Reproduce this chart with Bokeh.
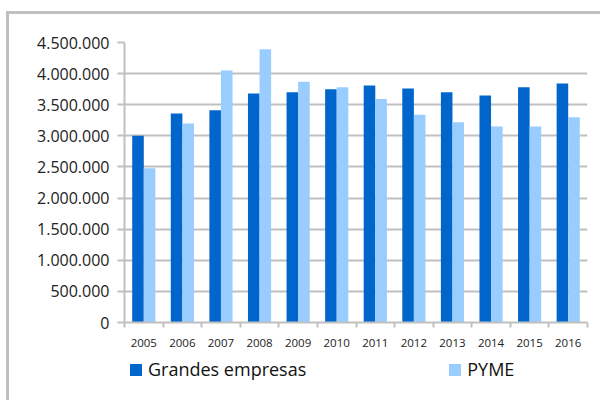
from bokeh.plotting import figure
from bokeh.layouts import column
from bokeh.models import (ColumnDataSource, FixedTicker, Legend, LegendItem,
                          Grid, CustomJSTickFormatter, Range1d)
from bokeh.embed import file_html
from bokeh.resources import INLINE

years = ["2005", "2006", "2007", "2008", "2009", "2010", "2011", "2012",
         "2013", "2014", "2015", "2016"]
grandes = [3000000, 3360000, 3410000, 3680000, 3700000, 3750000, 3810000,
           3760000, 3700000, 3650000, 3780000, 3840000]
pyme = [2480000, 3200000, 4050000, 4390000, 3870000, 3780000, 3590000,
        3340000, 3220000, 3150000, 3150000, 3300000]
y_ticks = [0, 500000, 1000000, 1500000, 2000000, 2500000, 3000000,
           3500000, 4000000, 4500000]
series_names = ["Grandes empresas", "PYME"]

DARK = "#0066CC"
LIGHT = "#99CCFF"
GRID = "#C0C0C0"

centers = [i + 0.5 for i in range(len(years))]
src = ColumnDataSource(dict(
    xg=[c - 0.15 for c in centers],
    xp=[c + 0.15 for c in centers],
    g=grandes, py=pyme))

p = figure(width=600, height=353, output_backend="svg", toolbar_location=None,
           x_range=Range1d(0, len(years)), y_range=Range1d(0, 4500000),
           min_border_left=124, min_border_right=13, min_border_top=42,
           min_border_bottom=31)
p.outline_line_color = None
p.background_fill_color = "white"
p.border_fill_alpha = 0

p.vbar(x="xg", top="g", width=0.3, source=src, fill_color=DARK, line_color=None)
p.vbar(x="xp", top="py", width=0.3, source=src, fill_color=LIGHT, line_color=None)

# x axis
xa = p.xaxis[0]
xa.ticker = FixedTicker(ticks=centers, minor_ticks=list(range(len(years) + 1)))
xa.major_label_overrides = {c: y for c, y in zip(centers, years)}
xa.major_tick_line_color = None
xa.minor_tick_line_color = GRID
xa.minor_tick_line_width = 2
xa.minor_tick_out = 5
xa.minor_tick_in = 0
xa.axis_line_color = GRID
xa.axis_line_width = 2
xa.major_label_text_font = "Open Sans"
xa.major_label_text_font_size = "11.5px"
xa.major_label_text_color = "#222222"
xa.major_label_standoff = 10

# y axis
ya = p.yaxis[0]
ya.ticker = FixedTicker(ticks=y_ticks)
ya.formatter = CustomJSTickFormatter(code="""
    return Math.round(tick).toString().replace(/\\B(?=(\\d{3})+(?!\\d))/g, '.');
""")
ya.axis_line_color = GRID
ya.axis_line_width = 2
ya.major_tick_line_color = GRID
ya.major_tick_line_width = 2
ya.major_tick_out = 7
ya.major_tick_in = 0
ya.minor_tick_line_color = None
ya.major_label_text_font = "Open Sans"
ya.major_label_text_font_size = "16px"
ya.major_label_text_color = "#222222"
ya.major_label_standoff = 8

p.xgrid.grid_line_color = None
p.ygrid.grid_line_color = None
p.add_layout(Grid(dimension=1, ticker=FixedTicker(ticks=y_ticks[1:-1]),
                  grid_line_color=GRID, grid_line_width=2))
p.add_layout(Grid(dimension=1, ticker=FixedTicker(ticks=y_ticks[-1:]),
                  grid_line_color="#EEEEEE", grid_line_width=2))

# legend strip (hidden renderers only supply the legend swatches)
p2 = figure(width=600, height=47, output_backend="svg", toolbar_location=None,
            x_range=Range1d(0, 1), y_range=Range1d(0, 1),
            x_axis_type=None, y_axis_type=None,
            min_border_left=0, min_border_right=0, min_border_top=0,
            min_border_bottom=0)
p2.outline_line_color = None
p2.background_fill_alpha = 0
p2.border_fill_alpha = 0
p2.xgrid.visible = False
p2.ygrid.visible = False
lg = p2.quad(left="xg", right="xg", bottom=0, top="g", source=src,
             fill_color=DARK, line_color=None, visible=False)
lp = p2.quad(left="xp", right="xp", bottom=0, top="py", source=src,
             fill_color=LIGHT, line_color=None, visible=False)

legend = Legend(items=[LegendItem(label=series_names[0], renderers=[lg]),
                       LegendItem(label=series_names[1], renderers=[lp])],
                orientation="horizontal", location=(4, 19),
                glyph_width=15, glyph_height=15, label_standoff=5,
                spacing=141, padding=0, margin=0,
                border_line_color=None, background_fill_alpha=0,
                inactive_fill_alpha=0,
                label_text_font="Open Sans", label_text_font_size="18px",
                label_text_color="#111111", label_height=15)
p2.add_layout(legend, "center")

layout = column(p, p2, spacing=0)
layout.styles = {
    "background-image": "linear-gradient(#C0C0C0, #C0C0C0), linear-gradient(#C0C0C0, #C0C0C0)",
    "background-size": "3px 100%, 100% 3px",
    "background-position": "6px 11px, 6px 11px",
    "background-repeat": "no-repeat",
}

open("out.html", "w").write(file_html(layout, INLINE))
